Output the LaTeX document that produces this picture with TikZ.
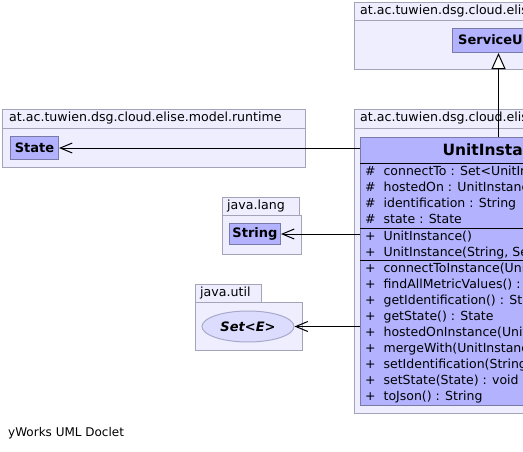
\documentclass[tikz,border=0pt]{standalone}
\usepackage{fontspec}
\setmainfont{DejaVu Sans}
\usetikzlibrary{arrows.meta,shapes.geometric}
\definecolor{pkgfill}{HTML}{EEEEFF}
\definecolor{pkgline}{HTML}{A4A4B8}
\definecolor{clsfill}{HTML}{B2B2FF}
\definecolor{clsline}{HTML}{7A7AA8}
\definecolor{ifill}{HTML}{DCDCFF}
\definecolor{iline}{HTML}{A8A8C8}
\tikzset{
  pkg/.style={draw=pkgline, fill=pkgfill, line width=1pt, inner sep=0pt, anchor=north west},
  cls/.style={draw=clsline, fill=clsfill, line width=1pt, inner sep=0pt, anchor=north west},
  txt/.style={inner sep=0pt, anchor=west, font=\fontsize{12.5}{14}\selectfont, text height=9pt, text depth=2.5pt},
  lbl/.style={txt, font=\fontsize{12.6}{14}\selectfont},
  ttl/.style={inner sep=0pt, font=\bfseries\fontsize{13}{15}\selectfont},
  dep/.style={line width=1pt, -{Straight Barb[length=12pt,width=10pt,line width=1pt]}},
  gen/.style={line width=1pt, -{Triangle[open,length=16pt,width=14pt,line width=1pt,fill=white]}},
  sep/.style={draw=black, line width=1pt}
}
\begin{document}
\begin{tikzpicture}[x=1pt,y=-1pt]
\useasboundingbox (0,0) rectangle (523,451);
\clip (0,0) rectangle (523,451);
\fill[white] (0,0) rectangle (523,451);
% top package
\node[pkg, minimum width=300pt, minimum height=18pt] (tpt) at (354,2) {};
\node[pkg, minimum width=300pt, minimum height=49pt] (tpb) at (354,20) {};
\node[lbl] (tpl) at (360,11) {at.ac.tuwien.dsg.cloud.elise};
\node[cls, minimum width=92pt, minimum height=24pt] (su) at (452,28) {};
\node[ttl, anchor=west] (sut) at (458,40) {ServiceUnit};
% runtime package
\node[pkg, minimum width=303pt, minimum height=19pt] (rpt) at (2,109) {};
\node[pkg, minimum width=303pt, minimum height=39pt] (rpb) at (2,128) {};
\node[lbl] (rpl) at (9,118.5) {at.ac.tuwien.dsg.cloud.elise.model.runtime};
\node[cls, minimum width=48pt, minimum height=23pt] (st) at (10,136) {};
\node[ttl] (stt) at (st.center) {State};
% unit instance package
\node[pkg, minimum width=300pt, minimum height=19pt] (upt) at (354,109) {};
\node[pkg, minimum width=300pt, minimum height=285pt] (upb) at (354,128) {};
\node[lbl] (upl) at (360,118.5) {at.ac.tuwien.dsg.cloud.elise.model.runtime};
\node[cls, minimum width=276pt, minimum height=268pt] (ui) at (360,137) {};
\node[inner sep=0pt, font=\bfseries\fontsize{15.5}{17}\selectfont] (uit) at (498,150) {UnitInstance};
\draw[sep] (360,163) -- (636,163);
\draw[sep] (360,228) -- (636,228);
\draw[sep] (360,260) -- (636,260);
\node[txt] (a1) at (365,172.5) {\#\ \ connectTo : Set<UnitInstance>};
\node[txt] (a2) at (365,188.5) {\#\ \ hostedOn : UnitInstance};
\node[txt] (a3) at (365,204.5) {\#\ \ identification : String};
\node[txt] (a4) at (365,220.5) {\#\ \ state : State};
\node[txt] (c1) at (365,237) {+\ \ UnitInstance()};
\node[txt] (c2) at (365,253) {+\ \ UnitInstance(String, Set<UnitInstance>)};
\node[txt] (m1) at (365,269) {+\ \ connectToInstance(UnitInstance) : void};
\node[txt] (m2) at (365,285) {+\ \ findAllMetricValues() : Set};
\node[txt] (m3) at (365,301) {+\ \ getIdentification() : String};
\node[txt] (m4) at (365,317) {+\ \ getState() : State};
\node[txt] (m5) at (365,333) {+\ \ hostedOnInstance(UnitInstance) : void};
\node[txt] (m6) at (365,349) {+\ \ mergeWith(UnitInstance) : void};
\node[txt] (m7) at (365,365) {+\ \ setIdentification(String) : void};
\node[txt] (m8) at (365,381) {+\ \ setState(State) : void};
\node[txt] (m9) at (365,397) {+\ \ toJson() : String};
% java.lang
\node[pkg, minimum width=77pt, minimum height=18pt] (lpt) at (222,197) {};
\node[pkg, minimum width=79pt, minimum height=39pt] (lpb) at (222,215) {};
\node[lbl] (lpl) at (227,206) {java.lang};
\node[cls, minimum width=51pt, minimum height=21pt] (str) at (229,223) {};
\node[ttl] (strt) at (str.center) {String};
% java.util
\node[pkg, minimum width=66pt, minimum height=18pt] (jpt) at (195,284) {};
\node[pkg, minimum width=107pt, minimum height=48pt] (jpb) at (195,302) {};
\node[lbl] (jpl) at (200,293) {java.util};
\node[ellipse, draw=iline, fill=ifill, line width=1pt, minimum width=92pt, minimum height=31pt, inner sep=0pt] (set) at (248,326.5) {};
\node[ttl, font=\bfseries\itshape\fontsize{13}{15}\selectfont] (sett) at (set.center) {Set<E>};
% footer
\node[txt, font=\fontsize{12}{14}\selectfont] (foot) at (8,433) {yWorks UML Doclet};
% connectors
\draw[gen] (ui.north -| su.south) -- (su.south);
\draw[dep] (st.east -| ui.west) -- (st.east);
\draw[dep] (str.east -| ui.west) -- (str.east);
\draw[dep] (set.east -| ui.west) -- (set.east);
\end{tikzpicture}
\end{document}
